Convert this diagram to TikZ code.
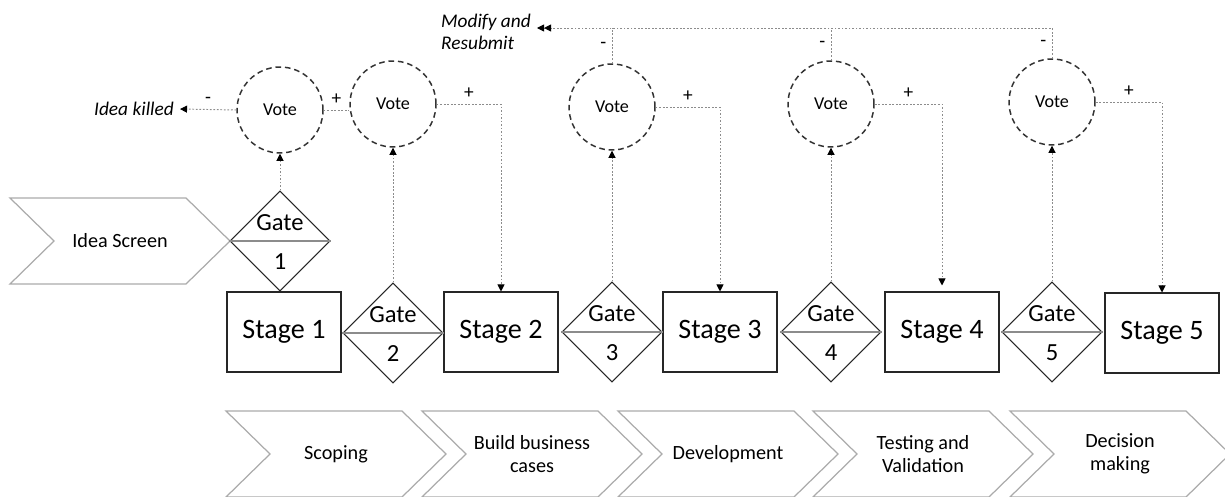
\documentclass[tikz,border=0pt]{standalone}
\usepackage{fontspec}
\setmainfont{Carlito}
\usetikzlibrary{arrows.meta}
\usetikzlibrary{shapes.geometric}
\tikzset{stagebox/.style={draw=black!85,line width=0.6pt,minimum width=2.28cm,minimum height=1.6cm,
        inner sep=0pt,font=\fontsize{16}{19}\selectfont},
    gatebox/.style={diamond,aspect=1,draw=black!85,line width=0.6pt,minimum width=2cm,minimum height=2cm,inner sep=0pt},
    gateline/.style={draw=black!45,line width=0.6pt},
    gatetext/.style={inner sep=0pt,font=\fontsize{14}{17}\selectfont},
    votebox/.style={circle,draw=black!80,line width=0.85pt,dash pattern=on 3.2pt off 2.2pt,
        minimum size=1.72cm,inner sep=0pt,font=\fontsize{10.3}{12}\selectfont},
    link/.style={draw=black!45,line width=0.55pt,dash pattern=on 1pt off 1pt},
    arr/.style={-{Triangle[length=4pt,width=4pt,color=black]}},
    arrtwo/.style={-{Triangle[length=4pt,width=4pt,color=black]Triangle[length=4pt,width=4pt,color=black]}},
    sign/.style={inner sep=3pt,font=\fontsize{11}{13}\selectfont},
    note/.style={align=left,font=\itshape\fontsize{11}{12.5}\selectfont},
    phaseline/.style={draw=black!33,line width=0.7pt},
    phasetext/.style={align=center,font=\fontsize{11.5}{13}\selectfont}}

\begin{document}
\begin{tikzpicture}[x=0.02cm,y=-0.02cm,
pics/phase/.style={code={
    \draw[phaseline] (0,0) -- (176,0) -- (220,43) -- (176,86) -- (0,86) -- (44,43) -- cycle;
    \node[phasetext] (-txt) at (110,43) {#1};}},
pics/gate/.style={code={
    \node[gatebox] (-d) at (0,0) {};
    \draw[gateline] (-d.west) -- (-d.east);
    \node[gatetext] (-top) at (0,-18) {Gate};
    \node[gatetext] (-num) at (0,21) {#1};}}]
      \useasboundingbox (0,0) rectangle (1225,497);
      \path pic (idea) at (10,198) {phase=Idea Screen};
      \path foreach \X/\T in {226/Scoping,422/{Build business\\cases},618/Development,
        813/{Testing and\\Validation},1010/{Decision\\making}}
      {pic (ph\X) at (\X,411) {phase=\T}};
      \node[stagebox] (s1) at (284,332) {Stage 1};
      \node[stagebox] (s2) at (501,332) {Stage 2};
      \node[stagebox] (s3) at (720,332) {Stage 3};
      \node[stagebox] (s4) at (942,332) {Stage 4};
      \node[stagebox] (s5) at (1162,333) {Stage 5};
      \path pic (g1) at (280,241) {gate=1};
      \path pic (g2) at (393,333) {gate=2};
      \path pic (g3) at (612,332) {gate=3};
      \path pic (g4) at (831,332) {gate=4};
      \path pic (g5) at (1052,332) {gate=5};
      \node[votebox] (v1) at (280,110) {Vote};
      \node[votebox] (v2) at (393,104) {Vote};
      \node[votebox] (v3) at (612,107) {Vote};
      \node[votebox] (v4) at (831,104) {Vote};
      \node[votebox] (v5) at (1052,102) {Vote};
      \node[note,anchor=east] (killed) at (180,109) {Idea killed};
      \coordinate (back) at (537,28);
      \node[note,anchor=east] (modify) at (537,32) {Modify and\\Resubmit};
      \foreach \i in {1,...,5}
        \draw[link,arr] (g\i-d.north) -- (v\i.south);
      \draw[link,arr] (v1.west) -- node[sign,above] (m1) {-} (killed.east);
      \draw[link] (v1.east) -- node[sign,above] (p1) {+} (v1.east -| v2.west);
      \draw[link,arr] (v2.east) -| node[sign,pos=0.25,above] (p2) {+} (s2.north);
      \draw[link,arr] (v3.east) -| node[sign,pos=0.25,above] (p3) {+} (s3.north);
      \draw[link,arr,shorten >=6*0.02cm] (v4.east) -| node[sign,pos=0.25,above] (p4) {+} (s4.north);
      \draw[link,arr] (v5.east) -| node[sign,pos=0.25,above] (p5) {+} (s5.north);
      \draw[link] (v3.north) -- node[sign,left] (m3) {-} (v3.north |- back);
      \draw[link] (v4.north) -- node[sign,left] (m4) {-} (v4.north |- back);
      \draw[link,arrtwo] (v5.north) |- node[sign,pos=0.25,left] (m5) {-} (back);
\end{tikzpicture}
\end{document}
